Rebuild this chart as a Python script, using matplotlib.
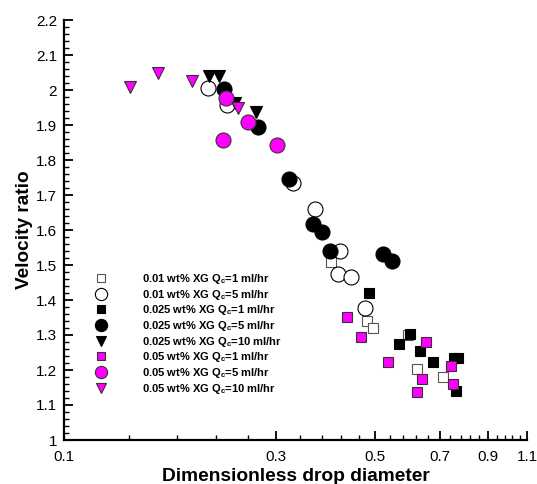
import matplotlib
matplotlib.use("Agg")
import matplotlib.pyplot as plt
from matplotlib.lines import Line2D
from matplotlib.ticker import FixedLocator, FixedFormatter, NullFormatter

plt.rcParams['font.family'] = ['Liberation Sans', 'DejaVu Sans']
plt.rcParams['mathtext.fontset'] = 'custom'
plt.rcParams['mathtext.rm'] = 'Liberation Sans:bold'
plt.rcParams['mathtext.bf'] = 'Liberation Sans:bold'

# ---- measured data: dimensionless drop diameter vs. velocity ratio ----
x_01_q1 = [0.398, 0.481, 0.495, 0.593, 0.623, 0.713]
y_01_q1 = [1.508, 1.341, 1.321, 1.300, 1.202, 1.181]

x_01_q5 = [0.211, 0.233, 0.328, 0.366, 0.418, 0.414, 0.441, 0.475]
y_01_q5 = [2.005, 1.957, 1.735, 1.660, 1.541, 1.473, 1.467, 1.376]

x_025_q1 = [0.486, 0.600, 0.567, 0.632, 0.677, 0.755, 0.771, 0.760]
y_025_q1 = [1.421, 1.303, 1.274, 1.255, 1.224, 1.233, 1.235, 1.141]

x_025_q5 = [0.229, 0.273, 0.320, 0.364, 0.380, 0.397, 0.521, 0.546]
y_025_q5 = [2.003, 1.895, 1.746, 1.616, 1.593, 1.540, 1.531, 1.512]

x_025_q10 = [0.212, 0.223, 0.242, 0.271]
y_025_q10 = [2.041, 2.039, 1.962, 1.938]

x_05_q1 = [0.432, 0.466, 0.536, 0.651, 0.741, 0.640, 0.749, 0.622]
y_05_q1 = [1.352, 1.295, 1.224, 1.281, 1.211, 1.173, 1.159, 1.138]

x_05_q5 = [0.231, 0.260, 0.228, 0.302]
y_05_q5 = [1.976, 1.909, 1.857, 1.843]

x_05_q10 = [0.141, 0.163, 0.194, 0.246]
y_05_q10 = [2.008, 2.049, 2.026, 1.948]

labels = [
    r'0.01 wt% XG Q$_\mathbf{c}$=1 ml/hr',
    r'0.01 wt% XG Q$_\mathbf{c}$=5 ml/hr',
    r'0.025 wt% XG Q$_\mathbf{c}$=1 ml/hr',
    r'0.025 wt% XG Q$_\mathbf{c}$=5 ml/hr',
    r'0.025 wt% XG Q$_\mathbf{c}$=10 ml/hr',
    r'0.05 wt% XG Q$_\mathbf{c}$=1 ml/hr',
    r'0.05 wt% XG Q$_\mathbf{c}$=5 ml/hr',
    r'0.05 wt% XG Q$_\mathbf{c}$=10 ml/hr',
]

x_major = [0.1, 0.3, 0.5, 0.7, 0.9, 1.1]
x_major_labels = ['0.1', '0.3', '0.5', '0.7', '0.9', '1.1']
y_major = [1.0, 1.1, 1.2, 1.3, 1.4, 1.5, 1.6, 1.7, 1.8, 1.9, 2.0, 2.1, 2.2]
y_major_labels = ['1', '1.1', '1.2', '1.3', '1.4', '1.5', '1.6', '1.7',
                  '1.8', '1.9', '2', '2.1', '2.2']

MAG = '#ff00ff'
series = [
    (x_01_q1, y_01_q1, 's', 'white', '#555555', 7.3),
    (x_01_q5, y_01_q5, 'o', 'white', 'black', 10.8),
    (x_025_q1, y_025_q1, 's', 'black', 'black', 7.3),
    (x_025_q5, y_025_q5, 'o', 'black', 'black', 10.8),
    (x_025_q10, y_025_q10, 'v', 'black', 'black', 8.6),
    (x_05_q1, y_05_q1, 's', MAG, '#333333', 7.3),
    (x_05_q5, y_05_q5, 'o', MAG, '#333333', 10.8),
    (x_05_q10, y_05_q10, 'v', MAG, '#333333', 8.6),
]
legend_sizes = {'s': 6.0, 'o': 8.8, 'v': 7.2}

fig = plt.figure(figsize=(5.37, 4.84), dpi=100)
ax = fig.add_axes([64 / 537, 1 - 440 / 484, 463 / 537, 420 / 484])

handles = []
for xs, ys, mk, fc, ec, ms in series:
    ax.plot(xs, ys, linestyle='none', marker=mk, markersize=ms,
            markerfacecolor=fc, markeredgecolor=ec, markeredgewidth=0.8)
    handles.append(Line2D([], [], linestyle='none', marker=mk,
                          markersize=legend_sizes[mk], markerfacecolor=fc,
                          markeredgecolor=ec, markeredgewidth=0.8))

ax.set_xscale('log')
ax.set_xlim(0.1, 1.1)
ax.set_ylim(1.0, 2.2)

ax.xaxis.set_major_locator(FixedLocator(x_major))
ax.xaxis.set_major_formatter(FixedFormatter(x_major_labels))
x_minor = [round(0.1 + 0.04 * i, 2) for i in range(1, 25)]
x_minor = [v for v in x_minor if all(abs(v - m) > 1e-6 for m in x_major)]
ax.xaxis.set_minor_locator(FixedLocator(x_minor))
ax.xaxis.set_minor_formatter(NullFormatter())

ax.yaxis.set_major_locator(FixedLocator(y_major))
ax.yaxis.set_major_formatter(FixedFormatter(y_major_labels))
y_minor = [round(1.0 + 0.02 * i, 2) for i in range(61)]
y_minor = [v for v in y_minor if all(abs(v - m) > 1e-6 for m in y_major)]
ax.yaxis.set_minor_locator(FixedLocator(y_minor))

for side in ('top', 'right'):
    ax.spines[side].set_visible(False)
for side in ('left', 'bottom'):
    ax.spines[side].set_linewidth(1.6)

ax.tick_params(which='major', direction='in', length=6.5, width=1.3,
               labelsize=11)
ax.tick_params(axis='x', which='major', pad=7)
ax.tick_params(axis='y', which='major', pad=5)
ax.tick_params(which='minor', direction='in', length=3.6, width=1.0)

ax.set_xlabel('Dimensionless drop diameter', fontsize=13.8,
              fontweight='bold', labelpad=3)
ax.set_ylabel('Velocity ratio', fontsize=13.7, fontweight='bold',
              labelpad=2)

leg = ax.legend(handles, labels, loc='upper left',
                bbox_to_anchor=((93 - 64) / 463, (440 - 272) / 420),
                frameon=False, prop={'size': 8, 'weight': 'bold'},
                handlelength=1.4, handletextpad=3.0, labelspacing=0.15,
                borderpad=0, borderaxespad=0)

fig.savefig('out.png', dpi=100)
